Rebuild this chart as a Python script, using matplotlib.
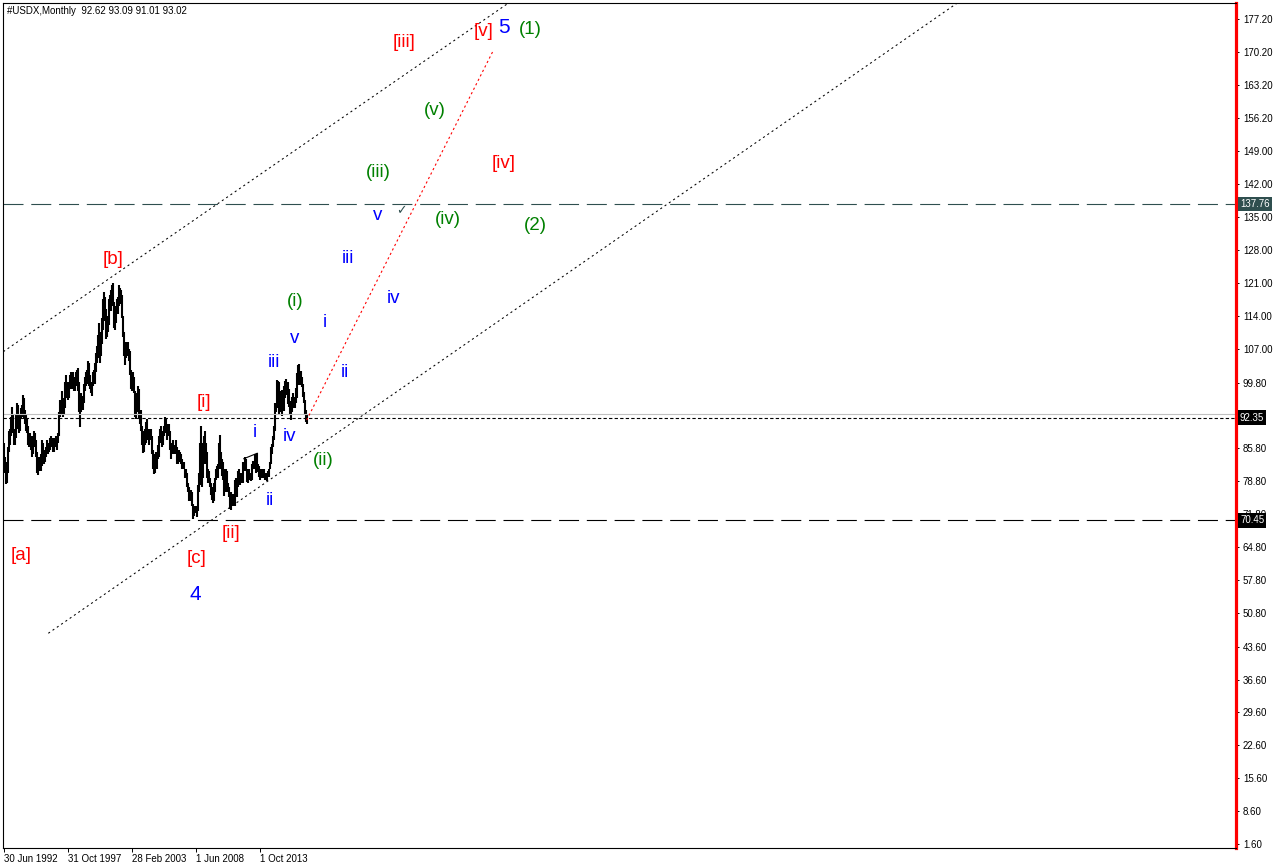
import matplotlib
matplotlib.use('Agg')
import matplotlib.pyplot as plt
import matplotlib.transforms as mtrans

plt.rcParams['font.family'] = ['Liberation Sans', 'DejaVu Sans']

# monthly USDX bars, Jun 1992 .. Sep 2017 (index 0 = Jun 1992)
low = [
    83.0, 80.5, 78.2, 78.4, 80.5, 85.0, 86.5,                          # 1992 Jun-Dec
    88.5, 90.5, 89.0, 86.5, 86.5, 88.0, 91.5, 90.0, 89.0, 89.5, 92.0, 92.5,  # 1993
    94.0, 92.0, 91.0, 89.5, 89.0, 86.5, 86.0, 86.5, 85.5, 84.0, 84.5, 87.0,  # 1994
    86.0, 84.0, 80.5, 80.1, 81.0, 81.0, 81.0, 82.0, 83.5, 82.5, 83.0, 84.0,  # 1995
    84.5, 84.5, 85.0, 85.5, 86.0, 86.5, 85.0, 85.0, 86.0, 86.5, 85.5, 87.0,  # 1996
    88.5, 92.5, 93.0, 94.5, 92.5, 93.0, 94.5, 97.5, 96.5, 96.0, 96.5, 98.5,  # 1997
    98.5, 98.5, 99.0, 98.0, 98.0, 99.0, 99.5, 98.0, 93.5, 90.4, 93.5, 94.0,  # 1998
    94.0, 95.5, 98.0, 99.0, 99.5, 101.0, 99.0, 98.5, 97.5, 97.0, 99.0, 100.0,  # 1999
    99.5, 102.0, 104.0, 105.0, 106.0, 104.0, 105.5, 108.0, 111.0, 113.0, 113.5, 109.0,  # 2000
    109.5, 110.5, 112.0, 115.0, 115.0, 117.0, 116.0, 111.5, 111.0, 112.5, 114.5, 114.5,  # 2001
    116.0, 117.0, 116.5, 113.5, 109.5, 105.5, 103.5, 105.0, 105.5, 105.5, 104.5, 101.5,  # 2002
    98.5, 98.0, 98.5, 97.5, 92.5, 92.0, 93.5, 94.5, 92.0, 91.0, 89.5, 86.5,  # 2003
    84.8, 85.0, 86.5, 87.0, 88.0, 87.5, 86.5, 87.5, 87.5, 84.5, 81.5, 80.4,  # 2004
    80.5, 82.0, 81.5, 83.5, 84.0, 87.0, 87.5, 86.0, 86.5, 88.5, 89.5, 89.0,  # 2005
    87.5, 89.0, 88.5, 85.5, 83.5, 84.5, 84.5, 84.5, 84.5, 85.0, 82.5, 82.5,  # 2006
    83.5, 83.0, 82.5, 81.5, 81.5, 81.5, 79.5, 79.5, 77.5, 76.5, 74.5, 75.0,  # 2007
    74.5, 73.5, 70.7, 71.5, 72.0, 72.0, 71.3, 72.5, 76.5, 78.0, 83.5, 77.5,  # 2008
    79.5, 84.5, 82.5, 84.0, 79.5, 78.5, 78.5, 77.5, 75.8, 74.9, 74.2, 74.5,  # 2009
    76.5, 79.0, 79.5, 79.5, 81.5, 85.0, 81.5, 80.0, 79.0, 75.6, 76.5, 78.5,  # 2010
    76.5, 76.5, 75.5, 73.0, 72.7, 73.5, 73.5, 73.5, 73.5, 75.5, 75.5, 77.5,  # 2011
    78.5, 78.0, 78.5, 78.5, 78.5, 81.0, 81.0, 81.5, 78.6, 78.5, 79.5, 79.0,  # 2012
    78.9, 79.0, 81.5, 81.5, 81.5, 80.5, 81.5, 80.8, 79.8, 79.1, 80.0, 79.5,  # 2013
    80.0, 79.5, 79.0, 79.0, 78.9, 79.7, 79.8, 81.5, 82.5, 84.5, 86.0, 87.5,  # 2014
    89.5, 93.5, 94.5, 94.5, 93.1, 93.5, 94.5, 92.6, 94.5, 93.8, 96.5, 97.2,  # 2015
    97.5, 95.3, 94.6, 93.0, 91.9, 93.5, 95.0, 94.4, 94.5, 95.5, 96.5, 101.0,  # 2016
    99.2, 99.2, 99.5, 98.8, 96.8, 95.5, 92.8, 91.5, 91.0,              # 2017 Jan-Sep
]
high = [
    87.0, 84.0, 81.5, 83.0, 86.0, 89.5, 90.0,
    92.5, 94.6, 93.0, 90.0, 89.5, 93.0, 95.5, 95.0, 92.5, 93.0, 94.5, 95.0,
    97.2, 96.5, 94.0, 93.0, 92.0, 90.5, 88.5, 89.0, 88.5, 87.0, 88.5, 89.5,
    89.0, 87.5, 85.0, 83.0, 84.0, 83.5, 84.5, 87.5, 87.0, 85.5, 85.5, 86.0,
    87.5, 87.0, 87.0, 88.0, 88.5, 88.0, 88.0, 87.0, 88.0, 88.5, 88.0, 89.0,
    93.5, 96.0, 96.0, 98.0, 96.5, 96.0, 100.0, 101.5, 100.0, 99.0, 100.0, 101.5,
    102.0, 101.5, 102.0, 101.0, 100.5, 102.0, 102.5, 103.0, 100.0, 96.5, 97.5, 97.0,
    97.0, 99.5, 101.0, 102.0, 102.5, 104.5, 104.0, 101.5, 100.0, 100.0, 102.0, 102.5,
    104.0, 106.0, 107.5, 110.0, 112.5, 109.0, 110.5, 113.5, 117.5, 119.0, 118.0, 115.5,
    113.5, 114.0, 117.5, 118.5, 119.5, 120.5, 121.0, 117.0, 114.5, 116.0, 117.5, 118.0,
    120.5, 120.0, 119.5, 118.5, 114.0, 110.5, 108.5, 108.5, 108.5, 108.5, 107.0, 106.5,
    102.5, 101.0, 102.0, 101.0, 98.0, 96.5, 97.5, 99.0, 98.5, 94.0, 94.0, 90.5,
    89.5, 88.5, 90.0, 91.5, 92.0, 90.0, 89.5, 90.0, 90.0, 88.5, 85.5, 82.5,
    84.5, 85.0, 85.0, 86.5, 88.5, 90.0, 90.5, 89.5, 89.5, 90.5, 92.5, 92.0,
    90.5, 91.0, 91.0, 89.5, 86.5, 87.0, 87.5, 86.5, 86.5, 87.5, 86.0, 84.5,
    85.5, 85.0, 84.5, 83.5, 82.5, 83.0, 81.5, 81.5, 80.5, 78.5, 77.5, 77.0,
    77.0, 76.5, 74.0, 73.5, 73.5, 73.5, 73.0, 78.0, 80.5, 87.0, 90.5, 87.0,
    86.5, 88.5, 89.6, 86.9, 85.0, 81.5, 81.0, 79.5, 78.5, 77.5, 76.5, 78.5,
    79.5, 81.5, 82.0, 82.5, 87.0, 88.7, 85.0, 83.5, 83.0, 79.5, 81.5, 81.4,
    81.0, 78.5, 77.5, 76.5, 76.5, 76.0, 76.0, 75.5, 79.0, 79.5, 79.5, 81.0,
    81.5, 79.5, 80.5, 80.0, 83.0, 83.0, 84.0, 83.5, 81.5, 80.5, 81.5, 80.5,
    80.5, 82.5, 83.2, 83.0, 84.5, 83.5, 84.8, 82.5, 82.0, 80.5, 81.5, 81.0,
    81.5, 81.5, 80.5, 80.5, 80.5, 81.0, 81.5, 83.0, 86.0, 86.7, 88.4, 90.5,
    95.5, 95.5, 100.4, 100.2, 100.0, 97.8, 98.0, 98.3, 97.0, 99.1, 100.2, 100.5,
    100.0, 99.9, 98.4, 95.0, 95.9, 96.8, 97.5, 96.8, 96.5, 98.7, 101.9, 103.6,
    103.8, 101.8, 102.3, 101.0, 99.5, 97.8, 96.0, 94.0, 93.1,
]
months = list(range(len(low)))

date_idx = [0, 64, 128, 192, 256]
date_labels = ['30 Jun 1992', '31 Oct 1997', '28 Feb 2003', '1 Jun 2008', '1 Oct 2013']

# 92.80 sits under the 92.35 marker, so it is left out
price_ticks = [177.20, 170.20, 163.20, 156.20, 149.00, 142.00, 135.00, 128.00, 121.00,
               114.00, 107.00, 99.80, 85.80, 78.80, 71.80, 64.80, 57.80, 50.80,
               43.60, 36.60, 29.60, 22.60, 15.60, 8.60, 1.60]

level_high = 137.76
level_low = 70.45
level_mid = 92.35
bid = 93.02

# channel / projection lines: (x0, y0, x1, y1)
upper_chan = (-0.2, 106.38, 473.2, 175.92)
lower_chan = (44.8, 46.44, 436.5, 104.25)
red_proj = (303.2, 91.84, 489.2, 170.24)
small_seg = (240.3, 83.6, 253.7, 84.76)

# wave labels (text, month index, price)
red_lbl = [('[iii]', 400.5, 172.1), ('[v]', 480.5, 174.6), ('[iv]', 500.5, 146.5),
           ('[b]', 109.5, 125.9), ('[i]', 200.5, 95.5), ('[ii]', 227.5, 67.6),
           ('[a]', 17.5, 63.1), ('[c]', 193.5, 62.3)]
blue_lbl = [('v', 374.5, 135.3), ('iii', 344.5, 126.3), ('iv', 390.5, 117.6),
            ('i', 321.5, 112.7), ('v', 291.5, 109.1), ('iii', 270.5, 104.0),
            ('ii', 341.5, 101.9), ('i', 251.5, 89.1), ('iv', 286.5, 88.4),
            ('ii', 266.5, 74.8)]
big_lbl = [('5', 500.5, 175.3), ('4', 191.5, 54.6)]
green_lbl = [('(1)', 526.5, 174.9), ('(v)', 431.5, 157.8), ('(iii)', 374.5, 144.6),
             ('(iv)', 444.5, 134.6), ('(2)', 531.5, 133.3), ('(i)', 291.5, 117.0),
             ('(ii)', 319.5, 83.3)]

W, H = 1276, 868
fig = plt.figure(figsize=(W / 100, H / 100), dpi=100)
ax = fig.add_axes([3 / W, 20 / H, 1233 / W, 845 / H])
ax.set_xlim(-0.5, 1232.5)
ax.set_ylim(0.74, 180.6)

# price bars
ax.vlines(months, low, high, color='black', lw=1.5)

# horizontal levels
ax.axhline(level_high, color='#2F4F4F', lw=0.8, ls=(0, (18, 7)))
ax.axhline(level_low, color='black', lw=0.8, ls=(0, (18, 7)))
ax.axhline(bid, color='#C0C0C0', lw=0.8)
ax.axhline(level_mid, color='black', lw=0.8, ls=(0, (3, 2)))

def ray(seg, color, dash):
    x0, y0, x1, y1 = seg
    k = (y1 - y0) / (x1 - x0)
    xe = 1300
    ax.plot([x0, xe], [y0, y0 + k * (xe - x0)], color=color, lw=0.75, ls=dash)

ray(upper_chan, 'black', (0, (2, 3)))
ray(lower_chan, 'black', (0, (2, 3)))
ax.plot(red_proj[::2], red_proj[1::2], color='red', lw=0.8, ls=(0, (2, 2.5)))
ax.plot(small_seg[::2], small_seg[1::2], color='black', lw=0.8)

ax.text(398, 136.3, '\u2713', color='#2F4F4F', fontsize=9, ha='center', va='center',
        family=['DejaVu Sans'])

lbl_size = 13.5
for t, x, y in red_lbl:
    ax.text(x, y, t, color='red', fontsize=lbl_size, ha='center', va='center')
for t, x, y in blue_lbl:
    ax.text(x, y, t, color='blue', fontsize=lbl_size, ha='center', va='center')
for t, x, y in big_lbl:
    ax.text(x, y, t, color='blue', fontsize=15, ha='center', va='center')
for t, x, y in green_lbl:
    ax.text(x, y, t, color='green', fontsize=lbl_size, ha='center', va='center')

ax.text(4 / 1233, 1 - 3 / 845, '#USDX,Monthly  92.62 93.09 91.01 93.02', transform=ax.transAxes,
        fontsize=7, va='top', ha='left')

# frame
for s in ['left', 'top', 'bottom']:
    ax.spines[s].set_color('black')
    ax.spines[s].set_linewidth(0.8)
ax.spines['right'].set_color('red')
ax.spines['right'].set_linewidth(2.3)

ax.yaxis.tick_right()
ax.set_yticks(price_ticks)
ax.set_yticklabels(['%.2f' % p for p in price_ticks])
ax.tick_params(axis='y', length=2, width=0.7, pad=3, labelsize=7, direction='out')
ax.set_xticks(date_idx)
ax.set_xticklabels(date_labels)
ax.tick_params(axis='x', length=3, width=0.7, pad=1, labelsize=7, direction='out')
for lab in ax.get_xticklabels():
    lab.set_ha('left')

# price markers on the scale
trans = mtrans.blended_transform_factory(fig.transFigure, ax.transData)
for val, bg in [(level_high, '#2F4F4F'), (level_mid, 'black'), (level_low, 'black')]:
    fig.text(1240 / W, val, '%.2f' % val, transform=trans, color='white', fontsize=7,
             va='center', ha='left',
             bbox=dict(boxstyle='square,pad=0.22', fc=bg, ec='none'))

fig.savefig('out.png', dpi=100)
